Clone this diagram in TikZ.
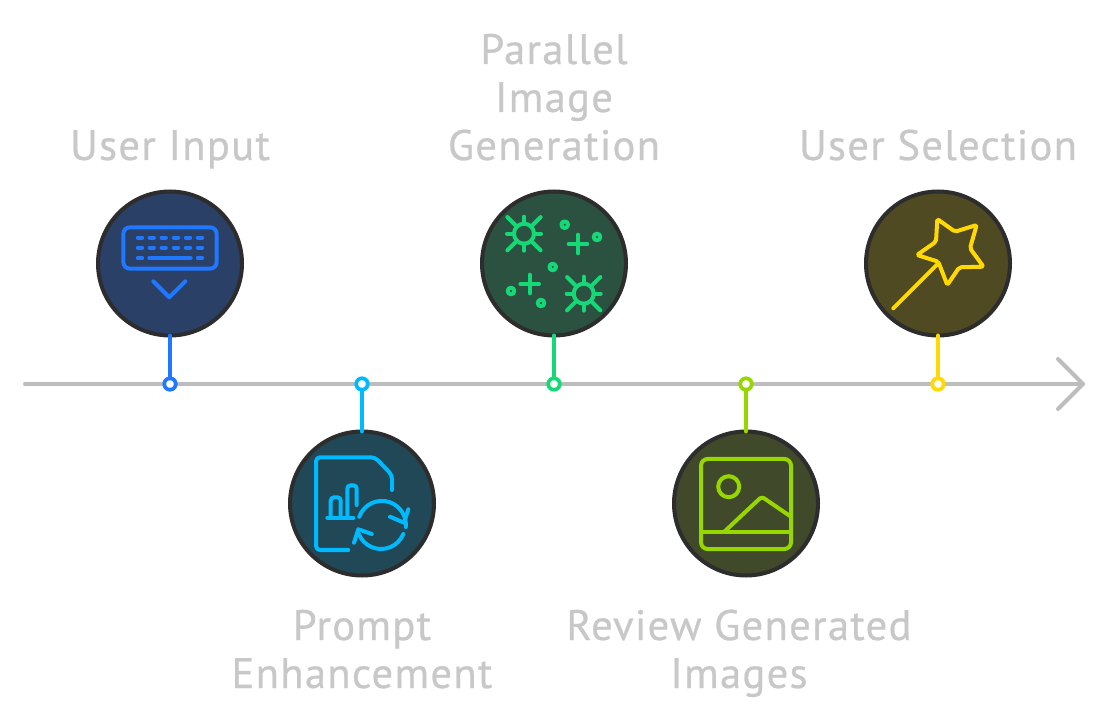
\documentclass[tikz,border=0pt]{standalone}
\usepackage{fontspec}
\setmainfont[LetterSpace=3,FakeBold=0.6]{PT Sans}
\definecolor{axisc}{HTML}{BDBDBD}
\definecolor{textc}{HTML}{C8C8C8}
\definecolor{ringc}{HTML}{2D2D2D}
\definecolor{cblue}{HTML}{1F78FF}
\definecolor{fblue}{HTML}{2A4066}
\definecolor{ccyan}{HTML}{00BAFF}
\definecolor{fcyan}{HTML}{214857}
\definecolor{cgreen}{HTML}{15D977}
\definecolor{fgreen}{HTML}{2B5240}
\definecolor{clime}{HTML}{97D700}
\definecolor{flime}{HTML}{40492A}
\definecolor{cyell}{HTML}{FFD900}
\definecolor{fyell}{HTML}{4F4A22}
\tikzset{
  disc/.style={circle,draw=ringc,line width=3pt,fill=#1,minimum size=108pt,inner sep=0pt,outer sep=0pt},
  pin/.style={circle,draw=#1,line width=2.8pt,fill=white,minimum size=8.6pt,inner sep=0pt,outer sep=0pt},
  stem/.style={draw=#1,line width=3pt,line cap=round},
  icon/.style={draw=#1,line width=3pt,line cap=round,line join=round},
  axisline/.style={draw=axisc,line width=3pt,line cap=round,line join=round},
  label/.style={text=textc,font=\fontsize{32}{36}\selectfont,align=center,inner sep=0pt,anchor=base}
}
\begin{document}
\begin{tikzpicture}[x=0.75pt,y=-0.75pt]
\useasboundingbox (0,0) rectangle (1108,720);
% axis
\coordinate (axisstart) at (25,384);
\coordinate (axisend) at (1083,384);
\coordinate (headtop) at (1058,359);
\coordinate (headbot) at (1058,409);
\draw[axisline] (axisstart) -- (axisend);
\draw[axisline] (headtop) -- (axisend) -- (headbot);
% discs and pins
\node[disc=fblue] (c1) at (170,263.5) {};
\node[disc=fcyan] (c2) at (362,503.5) {};
\node[disc=fgreen] (c3) at (554,263.5) {};
\node[disc=flime] (c4) at (746,503.5) {};
\node[disc=fyell] (c5) at (938,263.5) {};
\node[pin=cblue] (d1) at (170,384) {};
\node[pin=ccyan] (d2) at (362,384) {};
\node[pin=cgreen] (d3) at (554,384) {};
\node[pin=clime] (d4) at (746,384) {};
\node[pin=cyell] (d5) at (938,384) {};
\draw[stem=cblue] (c1) -- (d1);
\draw[stem=ccyan] (c2) -- (d2);
\draw[stem=cgreen] (c3) -- (d3);
\draw[stem=clime] (c4) -- (d4);
\draw[stem=cyell] (c5) -- (d5);
% keyboard icon
\draw[icon=cblue,rounded corners=5pt] (123.3,227.3) rectangle (216.7,268.7);
\foreach \y in {237.7,247.7}
  \foreach \x in {140,151.7,163.7,176,188,200}
    \draw[icon=cblue] (\x-2.2,\y) -- (\x+2.2,\y);
\draw[icon=cblue] (137.8,258) -- (142.2,258);
\draw[icon=cblue] (149.3,258) -- (190.7,258);
\draw[icon=cblue] (197.8,258) -- (202.2,258);
\draw[icon=cblue] (153.3,281.3) -- (169.3,297.3) -- (185.3,281.3);
% document icon
\draw[icon=ccyan,rounded corners=3pt] (348.3,550) -- (316,550) -- (316,457.3) -- (375,457.3) -- (392,475) -- (392,490);
\draw[icon=ccyan] (327.3,517.7) -- (353.3,517.7);
\draw[icon=ccyan,rounded corners=2.5pt] (330.7,517.7) -- (330.7,497.3) -- (340.7,497.3) -- (340.7,517.7);
\draw[icon=ccyan,rounded corners=2.5pt] (347.3,517.7) -- (347.3,485.3) -- (356.7,485.3) -- (356.7,505);
\draw[icon=ccyan] (359.3,516.7) arc[start angle=200,end angle=365,radius=24];
\draw[icon=ccyan] (390,516.7) -- (404,522.7) -- (408.3,509.3);
\draw[icon=ccyan] (403.3,534) arc[start angle=22,end angle=158,radius=24];
\draw[icon=ccyan] (371.7,534) -- (358.3,529.3) -- (354,542.7);
% sparkle icon
\foreach \cx/\cy in {524/233.7,583.7/293.7}{
  \draw[icon=cgreen] (\cx,\cy) circle[radius=10];
  \foreach \a in {0,90,180,270}
    \draw[icon=cgreen] ({\cx+10*cos(\a)},{\cy+10*sin(\a)}) -- ({\cx+17*cos(\a)},{\cy+17*sin(\a)});
  \foreach \a in {45,135,225,315}
    \draw[icon=cgreen] ({\cx+10*cos(\a)},{\cy+10*sin(\a)}) -- ({\cx+23.5*cos(\a)},{\cy+23.5*sin(\a)});
}
\foreach \cx/\cy in {564.7/224.7,597/237,552.7/267,511/291,541/303}
  \draw[icon=cgreen] (\cx,\cy) circle[radius=3.3];
\foreach \cx/\cy in {578/244,529.7/284}{
  \draw[icon=cgreen] (\cx-9.3,\cy) -- (\cx+9.3,\cy);
  \draw[icon=cgreen] (\cx,\cy-9.3) -- (\cx,\cy+9.3);
}
% picture icon
\draw[icon=clime,rounded corners=5pt] (701,459) rectangle (791,549);
\draw[icon=clime] (701,531.7) -- (791,531.7);
\draw[icon=clime] (728.7,486.7) circle[radius=10.5];
\draw[icon=clime,rounded corners=2pt] (724.3,531.7) -- (761.7,496.7) -- (791,516.7);
% wand icon
\draw[icon=cyell,rounded corners=1.5pt] (937.3,219) -- (955,231.7) -- (976.7,225) -- (970,248.3) -- (983.5,266.7) -- (959.3,267.3) -- (947.3,285) -- (938.3,261.7) -- (917,255) -- (936,241.7) -- cycle;
\draw[icon=cyell] (893.3,308.3) -- (938.3,263.3);
% labels
\node[label] (t1) at (170,160) {User Input};
\node[label] (t2) at (554,160) {Parallel\\Image\\Generation};
\node[label] (t3) at (938,160) {User Selection};
\node[label] (t4) at (362,688) {Prompt\\Enhancement};
\node[label] (t5) at (739,688) {Review Generated\\Images};
\end{tikzpicture}
\end{document}
